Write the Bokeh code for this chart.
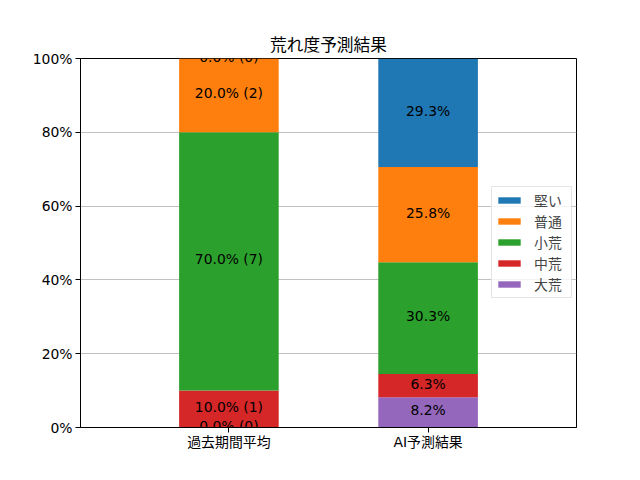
from bokeh.plotting import figure
from bokeh.models import (ColumnDataSource, Range1d, NumeralTickFormatter, FixedTicker,
                          Legend, LegendItem, Label)
from bokeh.embed import file_html
from bokeh.resources import INLINE

# ---- data ----
categories = ["過去期間平均", "AI予測結果"]
levels = ["大荒", "中荒", "小荒", "普通", "堅い"]          # stacking order (bottom -> top)
past_counts = [0, 1, 7, 2, 0]                              # 過去期間平均 (counts)
ai_percent = [8.2, 6.3, 30.3, 25.8, 29.3]                  # AI予測結果 (%)
colors = ["#9467bd", "#d62728", "#2ca02c", "#ff7f0e", "#1f77b4"]
title_text = "荒れ度予測結果"

FONT = "DejaVu Sans, Noto Sans CJK JP"
FS = "13.9px"

p = figure(frame_width=496, frame_height=369, output_backend="svg", toolbar_location=None,
           x_range=Range1d(-0.745, 1.745), y_range=Range1d(0, 1),
           min_border_left=80, min_border_right=56, min_border_top=58, min_border_bottom=45,
           title=title_text)
p.title.align = "center"
p.title.text_font = FONT
p.title.text_font_size = "16.7px"
p.title.text_font_style = "normal"
p.title.text_color = "black"
p.title.standoff = 8

total_past = sum(past_counts)
past_frac = [c / total_past for c in past_counts]
ai_frac = [v / 100 for v in ai_percent]

items = []
bottoms = [0.0, 0.0]
for i, lev in enumerate(levels):
    vals = [past_frac[i], ai_frac[i]]
    src = ColumnDataSource(dict(x=[0, 1], bottom=list(bottoms),
                                top=[bottoms[0] + vals[0], bottoms[1] + vals[1]]))
    r = p.vbar(x="x", bottom="bottom", top="top", width=0.5, source=src,
               fill_color=colors[i], line_color=None)
    items.append((lev, r))
    texts = [f"{past_frac[i]*100:.1f}% ({past_counts[i]})", f"{ai_percent[i]:.1f}%"]
    for j in range(2):
        p.add_layout(Label(x=j, y=bottoms[j] + vals[j] / 2, text=texts[j],
                           text_align="center", text_baseline="middle",
                           text_font_size=FS, text_font=FONT, text_color="black",
                           y_offset=2, level="overlay"))
    bottoms = [bottoms[0] + vals[0], bottoms[1] + vals[1]]

# axes
p.xaxis.ticker = FixedTicker(ticks=[0, 1])
p.xaxis.major_label_overrides = {0: categories[0], 1: categories[1]}
p.yaxis.ticker = FixedTicker(ticks=[0, 0.2, 0.4, 0.6, 0.8, 1.0])
p.yaxis.formatter = NumeralTickFormatter(format="0%")
for ax in (p.xaxis[0], p.yaxis[0]):
    ax.major_label_text_font = FONT
    ax.major_label_text_font_size = FS
    ax.major_label_text_color = "black"
    ax.axis_line_color = "black"
    ax.major_tick_line_color = "black"
    ax.major_tick_out = 5
    ax.major_tick_in = 0
    ax.minor_tick_line_color = None
    ax.major_label_standoff = 3
p.xaxis.major_label_standoff = 1
p.xgrid.grid_line_color = None
p.ygrid.grid_line_color = "#b0b0b0"
p.ygrid.grid_line_width = 0.8
p.outline_line_color = "black"
p.outline_line_alpha = 1
p.outline_line_width = 1

legend = Legend(items=[LegendItem(label=l, renderers=[r]) for l, r in reversed(items)],
                location=(411, 129), margin=0, padding=3, spacing=1,
                label_height=20, label_width=34, glyph_width=28, glyph_height=8,
                label_standoff=11, label_text_font=FONT, label_text_font_size=FS,
                border_line_color="#cccccc", background_fill_alpha=0.8)
p.add_layout(legend)

open("out.html", "w").write(file_html(p, INLINE))
